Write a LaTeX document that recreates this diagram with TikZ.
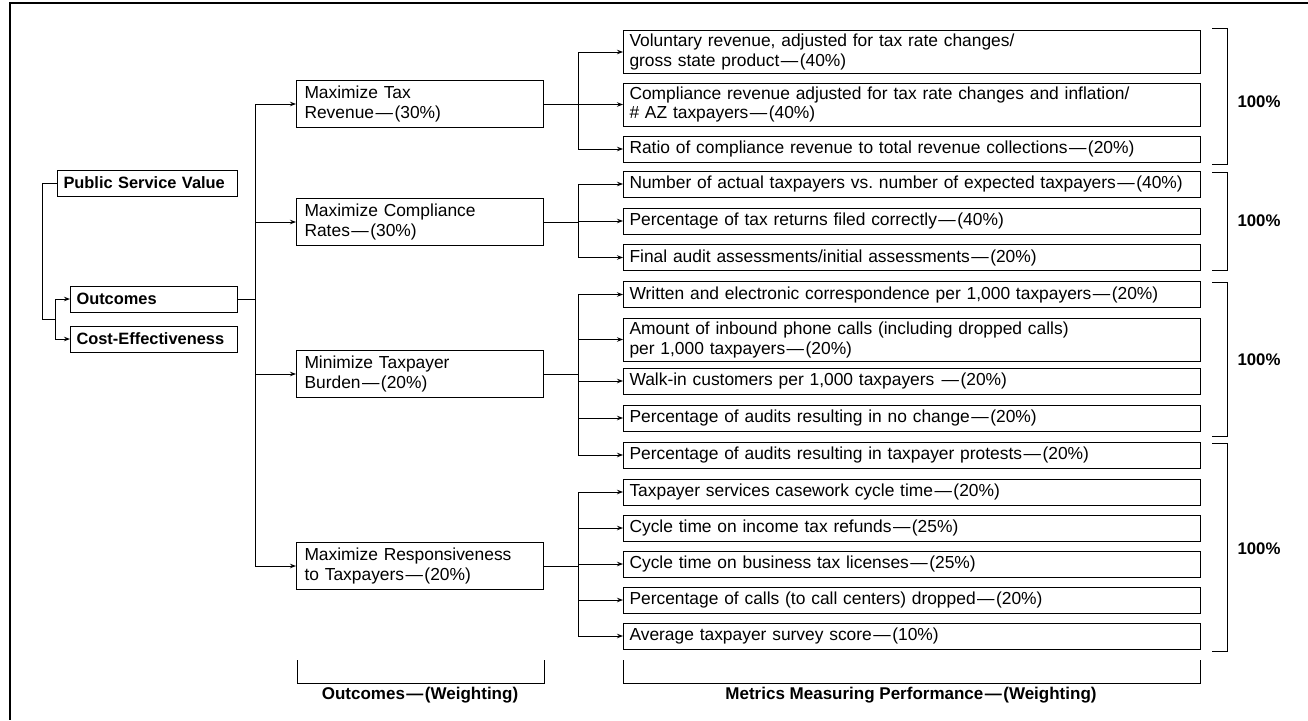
\documentclass[tikz,border=0pt]{standalone}
\usepackage{fontspec}
\setmainfont{Liberation Sans}
\usepackage{tikz}
\usetikzlibrary{arrows.meta, positioning, calc, shadows}
\tikzset{
	box/.style    ={rectangle, draw=black, line width=1pt, fill=white, align=left, inner xsep=8pt, inner ysep=2pt,
	                drop shadow={shadow xshift=0.9pt, shadow yshift=-0.9pt, fill=black!60, opacity=0.8}},
	rootbox/.style={box, font=\fontsize{16.4}{20}\selectfont\bfseries, inner xsep=6pt, text width=168pt, minimum height=26pt},
	subbox/.style ={box, font=\fontsize{16.4}{20}\selectfont\bfseries, inner xsep=6pt, text width=155pt, minimum height=26pt},
	goal/.style   ={box, font=\fontsize{17.4}{20}\selectfont, text width=231pt, minimum height=47pt},
	metric/.style ={box, font=\fontsize{17.4}{20}\selectfont, inner xsep=6pt, text width=565pt, minimum height=26pt},
	metric2/.style={metric, minimum height=43pt},
	pct/.style    ={font=\fontsize{16.8}{20}\selectfont\bfseries},
	caption/.style={font=\fontsize{17}{20}\selectfont\bfseries},
	link/.style   ={-{Stealth[length=6pt, width=4.5pt]}, line width=1pt},
	wire/.style   ={line width=1pt},
}
\newcommand{\wdash}{\kern1.5pt---\kern1.5pt}
\begin{document}
\begin{tikzpicture}[x=1pt, y=-1pt]
	\useasboundingbox (0,0) rectangle (1308,720);
	% frame
	\draw[line width=1.3pt] (1308,3) -- (10,3) -- (10,720);

	% left column
	\node[rootbox, anchor=west] (psv)  at (57,183) {Public Service Value};
	\node[subbox, anchor=west]  (out)  at (70,299) {Outcomes};
	\node[subbox, anchor=west]  (cost) at (70,339) {Cost-Effectiveness};

	% outcomes
	\node[goal, anchor=west] (o1) at (296,104) {Maximize Tax\\Revenue\wdash(30\%)};
	\node[goal, anchor=west] (o2) at (296,222) {Maximize Compliance\\Rates\wdash(30\%)};
	\node[goal, anchor=west] (o3) at (296,374) {Minimize Taxpayer\\Burden\wdash(20\%)};
	\node[goal, anchor=west] (o4) at (296,566) {Maximize Responsiveness\\to Taxpayers\wdash(20\%)};

	% metrics
	\node[metric2, anchor=west] (m1)  at (623,52)    {Voluntary revenue, adjusted for tax rate changes/\\gross state product\wdash(40\%)};
	\node[metric2, anchor=west] (m2)  at (623,104.5) {Compliance revenue adjusted for tax rate changes and inflation/\\\# AZ taxpayers\wdash(40\%)};
	\node[metric, anchor=west]  (m3)  at (623,149)   {Ratio of compliance revenue to total revenue collections\wdash(20\%)};
	\node[metric, anchor=west]  (m4)  at (623,184)   {Number of actual taxpayers vs.\ number of expected taxpayers\wdash(40\%)};
	\node[metric, anchor=west]  (m5)  at (623,221)   {Percentage of tax returns filed correctly\wdash(40\%)};
	\node[metric, anchor=west]  (m6)  at (623,257.5) {Final audit assessments/initial assessments\wdash(20\%)};
	\node[metric, anchor=west]  (m7)  at (623,294.5) {Written and electronic correspondence per 1,000 taxpayers\wdash(20\%)};
	\node[metric2, anchor=west] (m8)  at (623,339.5) {Amount of inbound phone calls (including dropped calls)\\per 1,000 taxpayers\wdash(20\%)};
	\node[metric, anchor=west]  (m9)  at (623,381)   {Walk-in customers per 1,000 taxpayers \wdash(20\%)};
	\node[metric, anchor=west]  (m10) at (623,418)   {Percentage of audits resulting in no change\wdash(20\%)};
	\node[metric, anchor=west]  (m11) at (623,455)   {Percentage of audits resulting in taxpayer protests\wdash(20\%)};
	\node[metric, anchor=west]  (m12) at (623,492)   {Taxpayer services casework cycle time\wdash(20\%)};
	\node[metric, anchor=west]  (m13) at (623,528)   {Cycle time on income tax refunds\wdash(25\%)};
	\node[metric, anchor=west]  (m14) at (623,564)   {Cycle time on business tax licenses\wdash(25\%)};
	\node[metric, anchor=west]  (m15) at (623,600)   {Percentage of calls (to call centers) dropped\wdash(20\%)};
	\node[metric, anchor=west]  (m16) at (623,636)   {Average taxpayer survey score\wdash(10\%)};

	% junction columns
	\coordinate (jp) at (42,319);
	\coordinate (jl) at (55,319);
	\coordinate (jo) at (255,299);
	\coordinate (jm) at (578,0);

	% left connectors
	\draw[wire] (psv.west) -| (jp) -- (jl);
	\draw[link] (jl) |- (out.west);
	\draw[link] (jl) |- (cost.west);
	\draw[wire] (out.east) -- (jo);
	\foreach \o in {o1,o2,o3,o4}
		\draw[link] (jo) |- (\o.west);

	% outcome -> metric connectors
	\foreach \o/\list in {o1/{m1,m2,m3}, o2/{m4,m5,m6}, o3/{m7,m8,m9,m10,m11}, o4/{m12,m13,m14,m15,m16}}{
		\draw[wire] (\o.east) -- (\o.east -| jm);
		\foreach \m in \list
			\draw[link] (\o.east -| jm) |- (\m.west);
	}

	% right brackets
	\foreach \t/\b/\l in {28/164/102, 172/270/221, 282/436/360, 443/651/549}{
		\draw[wire] (1212,\t) -| (1227,\b) -- (1212,\b);
		\node[pct] at (1259,\l) {100\%};
	}

	% bottom brackets
	\draw[wire] (297,660) |- (544,683) -- (544,660);
	\node[caption] (capo) at (420,695) {Outcomes\wdash(Weighting)};
	\draw[wire] (623,660) |- (1200,683) -- (1200,660);
	\node[caption] (capm) at (911,695) {Metrics Measuring Performance\wdash(Weighting)};
\end{tikzpicture}
\end{document}
